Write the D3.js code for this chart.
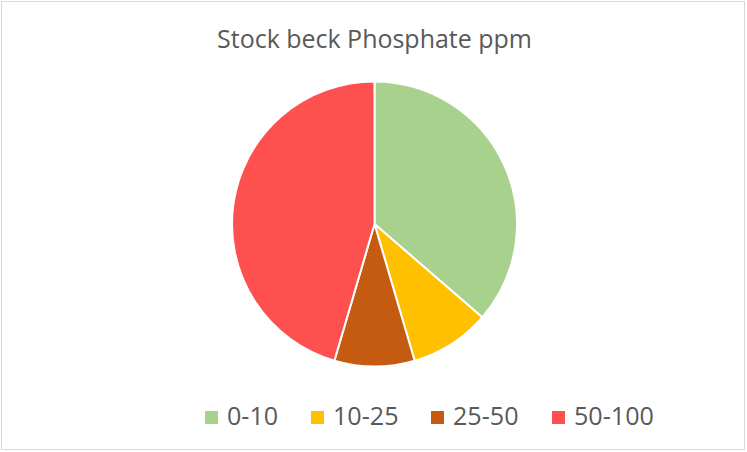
<!DOCTYPE html>
<html><head><meta charset="utf-8">
<script src="https://cdn.jsdelivr.net/npm/d3@7"></script>
<style>body{margin:0;background:#fff}svg{display:block}</style>
</head><body>
<script>
const title = "Stock beck Phosphate ppm";
const categories = ["0-10", "10-25", "25-50", "50-100"];
const values = [12, 3, 3, 15];
const colors = ["#A9D18E", "#FFC000", "#C55A11", "#FF5050"];

const W = 747, H = 452;
const svg = d3.select("body").append("svg").attr("width", W).attr("height", H);
svg.append("rect").attr("x", 1.5).attr("y", 1.5).attr("width", W - 4).attr("height", H - 4)
  .attr("fill", "#fff").attr("stroke", "#d9d9d9").attr("stroke-width", 1);

const font = "'Segoe UI', 'Open Sans', 'Noto Sans', sans-serif";
const t = svg.append("text").attr("x", 374.5).attr("y", 48).attr("text-anchor", "middle")
  .attr("font-family", font).attr("font-size", 20).attr("fill", "#595959").text(title);
const tw = t.node().getComputedTextLength();
t.attr("font-size", 20 * 315 / tw);

const cx = 374.5, cy = 224, r = 142.5;
const pie = d3.pie().sort(null).value(d => d)(values);
const arc = d3.arc().innerRadius(0).outerRadius(r);
const color = d3.scaleOrdinal().domain(categories).range(colors);
svg.append("g").attr("transform", `translate(${cx},${cy})`)
  .selectAll("path").data(pie).join("path")
  .attr("d", arc).attr("fill", (d, i) => color(categories[i]))
  .attr("stroke", "#fff").attr("stroke-width", 2).attr("stroke-linejoin", "round");

// legend
const legX = [205, 311, 431, 552];
const lg = svg.append("g");
const probe = lg.append("text").attr("font-family", font).attr("font-size", 20).text(categories[3]);
const lfs = 20 * 80 / probe.node().getComputedTextLength();
probe.remove();
categories.forEach((c, i) => {
  lg.append("rect").attr("x", legX[i]).attr("y", 411).attr("width", 13).attr("height", 13)
    .attr("fill", color(c));
  lg.append("text").attr("x", legX[i] + 22).attr("y", 425)
    .attr("font-family", font).attr("font-size", lfs).attr("fill", "#595959").text(c);
});
</script>
</body></html>
